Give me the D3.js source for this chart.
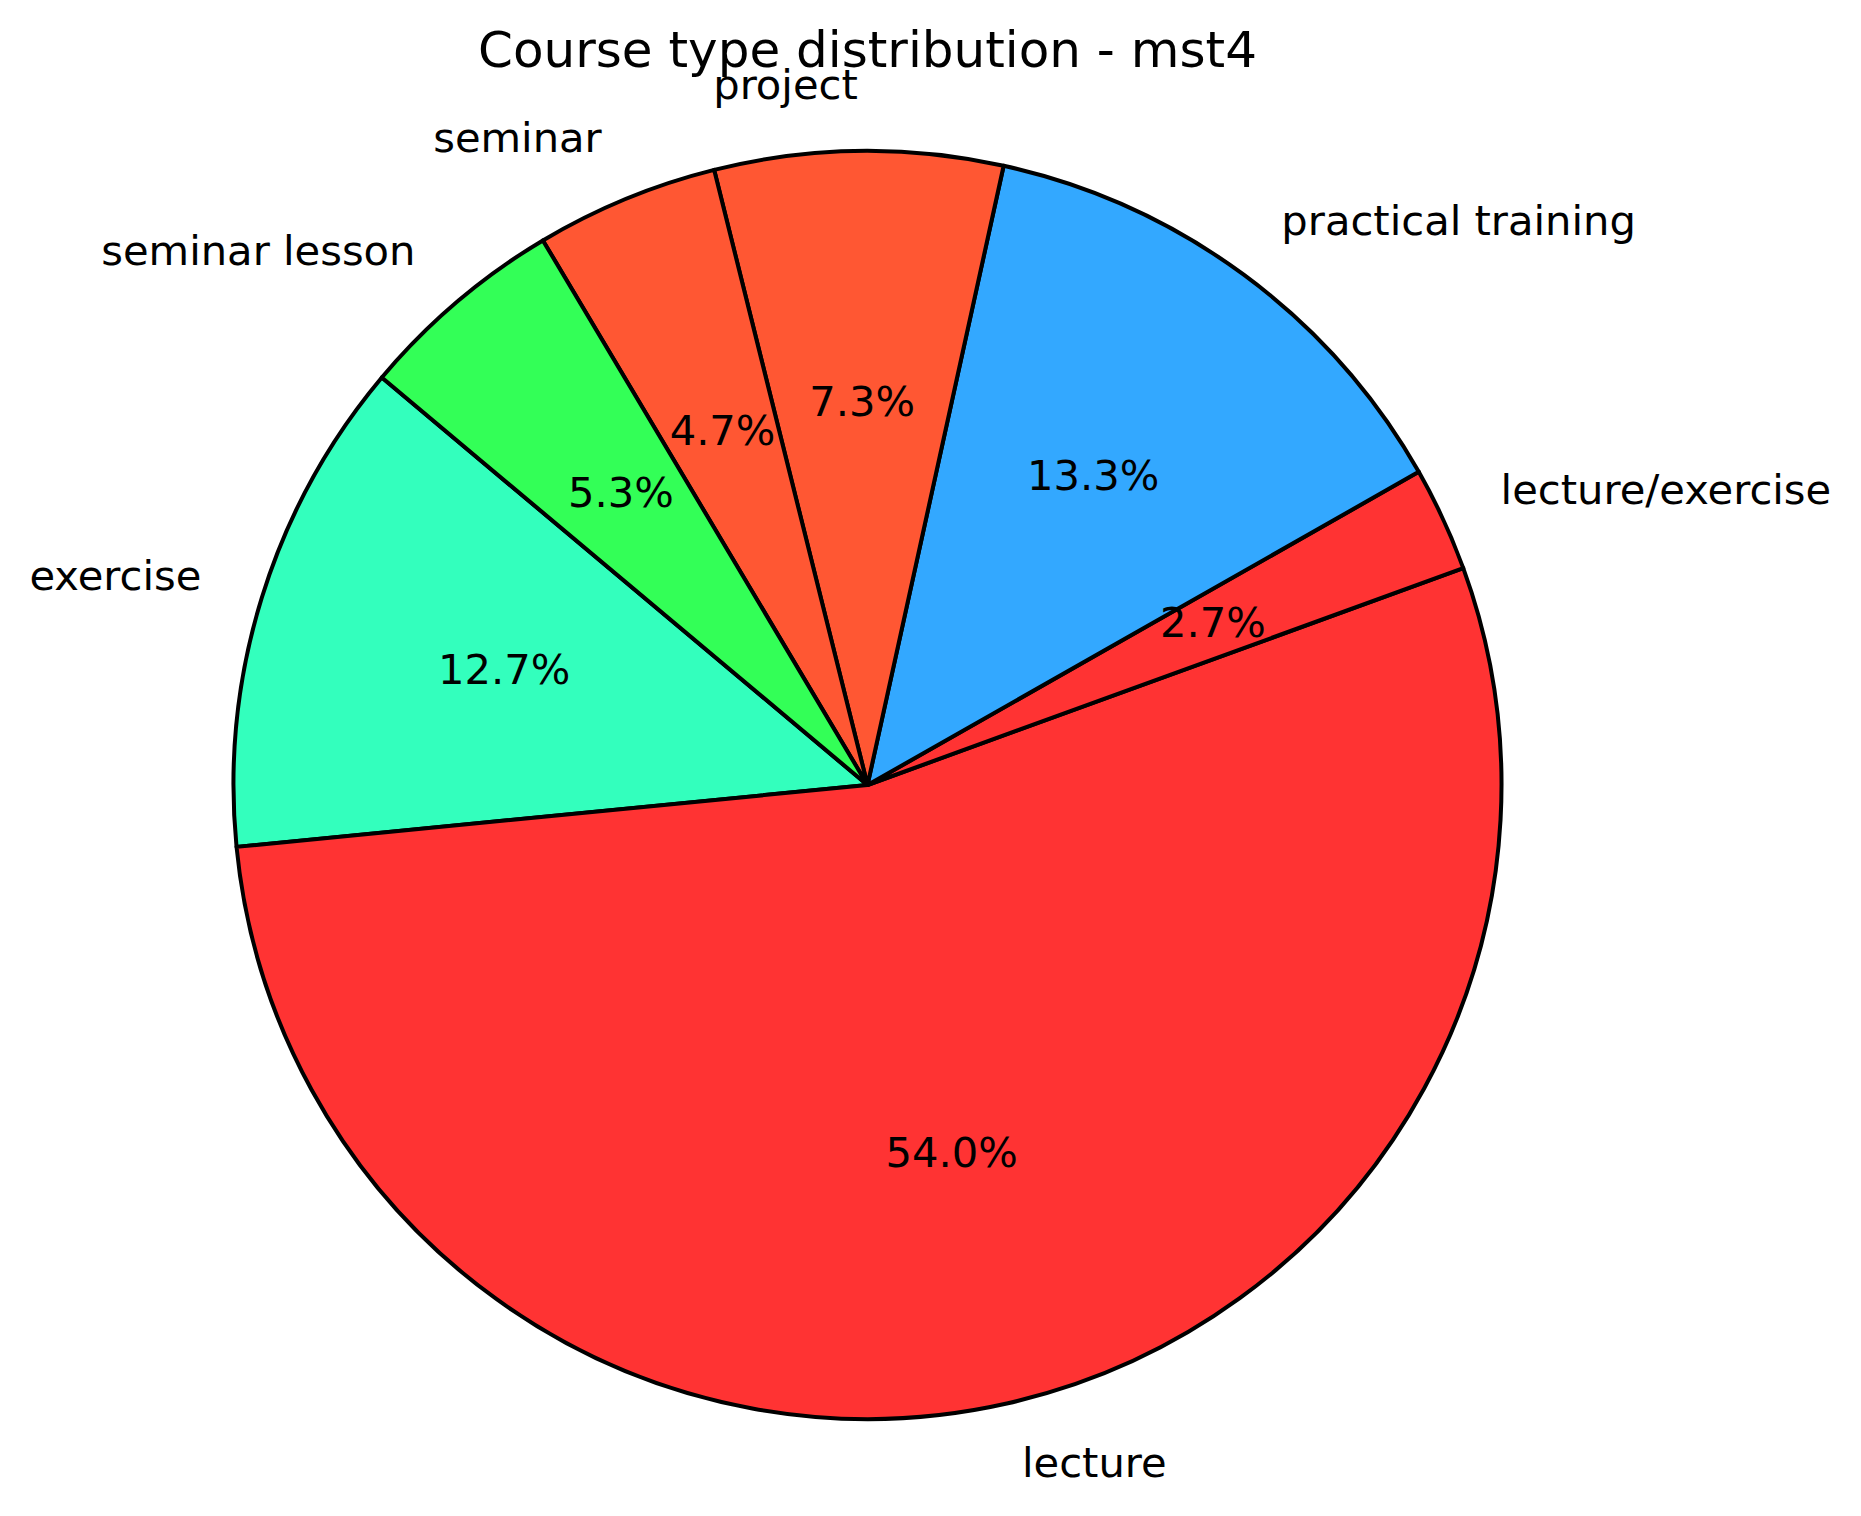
<!DOCTYPE html>
<html>
<head>
<meta charset="utf-8">
<script src="https://cdn.jsdelivr.net/npm/d3@7"></script>
<style>
  html, body { margin: 0; padding: 0; background: #ffffff; }
  svg { display: block; }
  text { font-family: "DejaVu Sans", sans-serif; fill: #000; }
</style>
</head>
<body>
<script>
// Data (matplotlib order, counter-clockwise from startangle 140°)
const categories = ["exercise", "lecture", "lecture/exercise", "practical training", "project", "seminar", "seminar lesson"];
const counts = [19, 81, 4, 20, 11, 7, 8];
const colors = ["#33FFBD", "#FF3333", "#FF3333", "#33A8FF", "#FF5733", "#FF5733", "#33FF57"];
const title = "Course type distribution - mst4";

const W = 1861, H = 1516;
const cx = 867.5, cy = 785, R = 634;
const labelFs = 41.67, titleFs = 50;

const svg = d3.select("body").append("svg").attr("width", W).attr("height", H);

const data = categories.map((c, i) => ({ name: c, value: counts[i], color: colors[i] }));
const startMath = 140 * Math.PI / 180;           // matplotlib startangle
const d3Start = Math.PI / 2 - startMath;          // convert to d3 angle (clockwise from 12 o'clock)
const pie = d3.pie().value(d => d.value).sort(null)
  .startAngle(d3Start).endAngle(d3Start - 2 * Math.PI);
const arcs = pie(data);
const total = d3.sum(counts);

const arc = d3.arc().innerRadius(0).outerRadius(R);
const g = svg.append("g").attr("transform", `translate(${cx},${cy})`);

g.selectAll("path.wedge").data(arcs).enter().append("path")
  .attr("class", "wedge")
  .attr("d", arc)
  .attr("fill", d => d.data.color)
  .attr("stroke", "#000")
  .attr("stroke-width", 4)
  .attr("stroke-linejoin", "round");

const baselineShift = 0.276 * labelFs;
// outer labels at 1.1 R
arcs.forEach(d => {
  const a = (d.startAngle + d.endAngle) / 2;
  const x = Math.sin(a) * R * 1.1, y = -Math.cos(a) * R * 1.1;
  const anchor = Math.abs(x) < 1e-6 ? "middle" : (x > 0 ? "start" : "end");
  g.append("text").attr("x", x).attr("y", y + baselineShift)
    .attr("text-anchor", anchor).attr("font-size", labelFs).text(d.data.name);
  const px = Math.sin(a) * R * 0.6, py = -Math.cos(a) * R * 0.6;
  g.append("text").attr("x", px).attr("y", py + baselineShift)
    .attr("text-anchor", "middle").attr("font-size", labelFs)
    .text((d.value / total * 100).toFixed(1) + "%");
});

svg.append("text").attr("x", cx).attr("y", 67)
  .attr("text-anchor", "middle").attr("font-size", titleFs).text(title);
</script>
</body>
</html>
